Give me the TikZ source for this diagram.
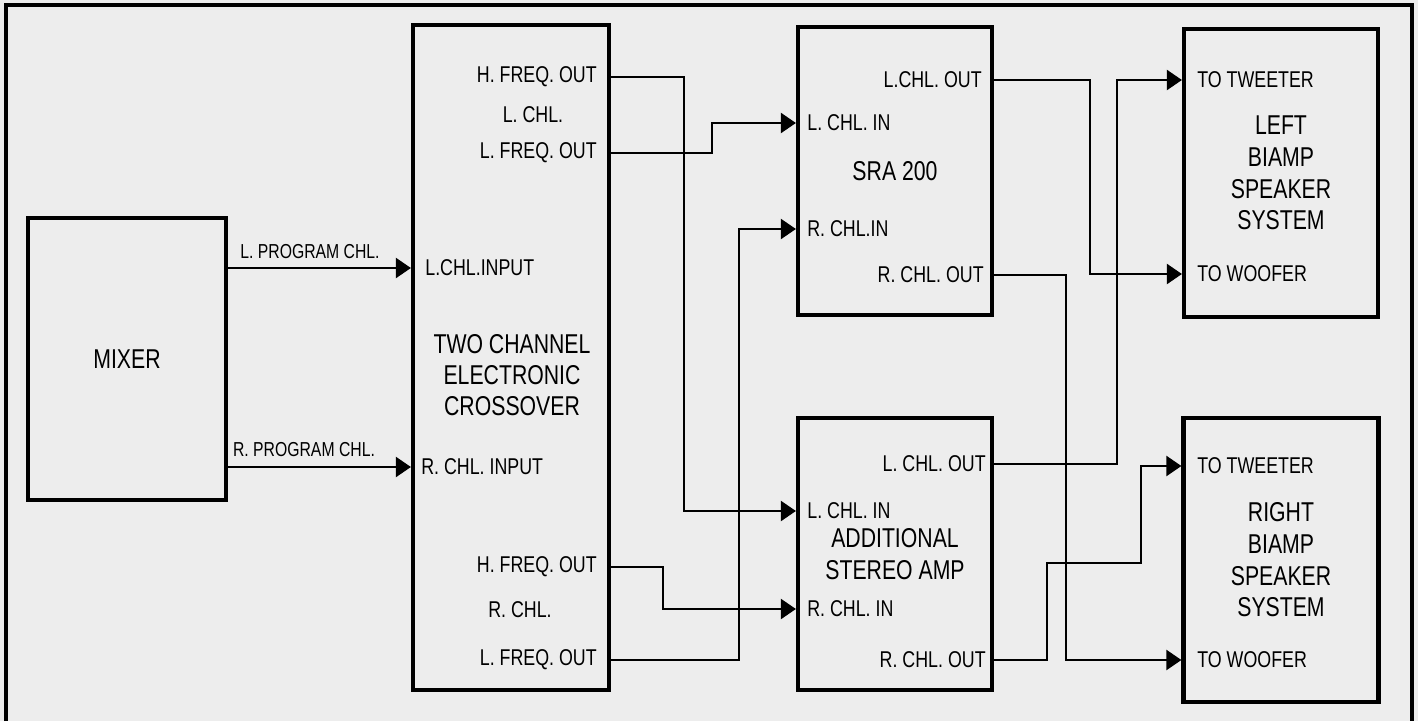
\documentclass[tikz,border=0pt]{standalone}
\usepackage{fontspec}
\setmainfont{Liberation Sans}[FakeStretch=0.78]
\usepackage{tikz}
\usetikzlibrary{arrows.meta,positioning}

\begin{document}
\begin{tikzpicture}[
  x=0.02cm, y=-0.02cm,
  blk/.style={draw=black, line width=2.4pt, inner sep=0pt, align=center,
              font=\fontsize{15.5}{18}\selectfont},
  port/.style={inner sep=0pt, font=\fontsize{13}{15}\selectfont},
  prog/.style={inner sep=0pt, font=\fontsize{11.5}{13}\selectfont},
  ttl/.style={align=center, inner sep=0pt, font=\fontsize{15.5}{17.5}\selectfont},
  arr/.style={-{Triangle[length=3mm, width=4mm]}, line width=1.2pt}
]
\useasboundingbox (0,0) rectangle (1418,721);
\fill[black!7] (0,0) rectangle (1418,721);
\draw[line width=2.4pt] (6,721) -- (6,5) -- (1412,5) -- (1412,721);

\node[blk, minimum width=3.96cm, minimum height=5.64cm] (mix) at (127,359) {MIXER};
\node[blk, minimum width=3.92cm, minimum height=13.3cm] (xo) at (511,357.5) {};
\node[ttl] (xottl) at (512,375) {TWO CHANNEL\\ELECTRONIC\\CROSSOVER};
\node[blk, minimum width=3.88cm, minimum height=5.76cm] (sra) at (895,171) {SRA 200};
\node[blk, minimum width=3.88cm, minimum height=5.44cm] (amb) at (895,554) {ADDITIONAL\\STEREO AMP};
\node[blk, minimum width=3.88cm, minimum height=5.76cm] (lsp) at (1281,173) {LEFT\\BIAMP\\SPEAKER\\SYSTEM};
\node[blk, minimum width=3.9cm, minimum height=5.68cm] (rsp) at (1281,560) {RIGHT\\BIAMP\\SPEAKER\\SYSTEM};

\node[prog] (lprog) at (310,252) {L. PROGRAM CHL.};
\node[prog] (rprog) at (304,450) {R. PROGRAM CHL.};

\node[port, anchor=east] (xoHL) at (597,77) {H. FREQ. OUT};
\node[port] (xoLC) at (533,115) {L. CHL.};
\node[port, anchor=east] (xoLL) at (597,153) {L. FREQ. OUT};
\node[port, anchor=west] (xoLin) at (425,268) {L.CHL.INPUT};
\node[port, anchor=west] (xoRin) at (421,467) {R. CHL. INPUT};
\node[port, anchor=east] (xoHR) at (597,567) {H. FREQ. OUT};
\node[port] (xoRC) at (520,610) {R. CHL.};
\node[port, anchor=east] (xoLR) at (597,660) {L. FREQ. OUT};

\node[port, anchor=east] (sraLo) at (982,80) {L.CHL. OUT};
\node[port, anchor=west] (sraLi) at (807,123) {L. CHL. IN};
\node[port, anchor=west] (sraRi) at (807,229) {R. CHL.IN};
\node[port, anchor=east] (sraRo) at (984,275) {R. CHL. OUT};

\node[port, anchor=east] (ambLo) at (986,464) {L. CHL. OUT};
\node[port, anchor=west] (ambLi) at (807,511) {L. CHL. IN};
\node[port, anchor=west] (ambRi) at (807,609) {R. CHL. IN};
\node[port, anchor=east] (ambRo) at (986,660) {R. CHL. OUT};

\node[port, anchor=west] (lspTw) at (1197,80) {TO TWEETER};
\node[port, anchor=west] (lspWo) at (1197,274) {TO WOOFER};
\node[port, anchor=west] (rspTw) at (1197,466) {TO TWEETER};
\node[port, anchor=west] (rspWo) at (1197,660) {TO WOOFER};

\draw[arr] (mix.east |- xoLin) -- (xo.west |- xoLin);
\draw[arr] (mix.east |- xoRin) -- (xo.west |- xoRin);
\draw[arr] (xo.east |- xoHL) -- ++(73,0) |- (amb.west |- ambLi);
\draw[arr] (xo.east |- xoLL) -- ++(101,0) |- (sra.west |- sraLi);
\draw[arr] (xo.east |- xoHR) -- ++(52,0) |- (amb.west |- ambRi);
\draw[arr] (xo.east |- xoLR) -- ++(128,0) |- (sra.west |- sraRi);
\draw[arr] (sra.east |- sraLo) -- ++(96,0) |- (lsp.west |- lspWo);
\draw[arr] (amb.east |- ambLo) -- ++(123,0) |- (lsp.west |- lspTw);
\draw[arr] (sra.east |- sraRo) -- ++(72,0) |- (rsp.west |- rspWo);
\draw[arr] (amb.east |- ambRo) -- ++(53,0) -- ++(0,-97) -- ++(94,0) |- (rsp.west |- rspTw);
\end{tikzpicture}
\end{document}
